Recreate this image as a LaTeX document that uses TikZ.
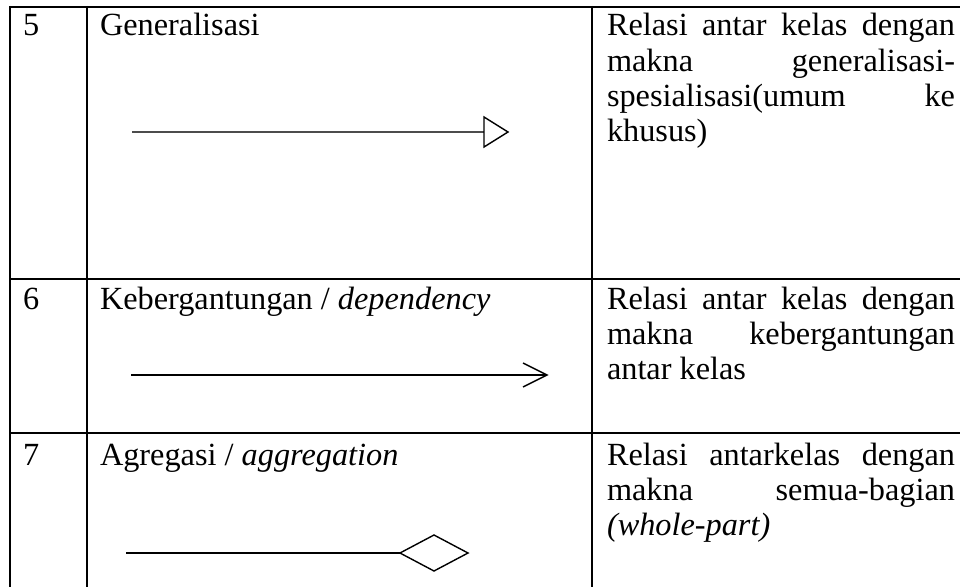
\documentclass[tikz,border=0pt]{standalone}
\usepackage{fontspec}
\setmainfont{Liberation Serif}
\begin{document}
\begin{tikzpicture}[x=1pt,y=-1pt,
  grid/.style={line width=1.8pt,black},
  txt/.style={anchor=base west,inner sep=0pt,outer sep=0pt,font=\fontsize{32.3}{35}\selectfont},
  conn/.style={line width=1.3pt},
  tip/.style={line width=1.4pt,line join=miter}]
\useasboundingbox (0,0) rectangle (960,586);
% table grid
\draw[grid] (9.5,7) -- (962,7);
\draw[grid] (9.5,279) -- (962,279);
\draw[grid] (9.5,433) -- (962,433);
\draw[grid] (10,6) -- (10,590);
\draw[grid] (87,6) -- (87,590);
\draw[grid] (592,6) -- (592,590);
% row 5
\node[txt] (n5) at (23,36) {5};
\node[txt] (t5) at (100,36) {Generalisasi};
\node[txt] (d5a) at (607,36) {\makebox[348pt][s]{Relasi antar kelas dengan}};
\node[txt] (d5b) at (607,71) {\makebox[348pt][s]{makna generalisasi-}};
\node[txt] (d5c) at (607,106) {\makebox[348pt][s]{spesialisasi(umum ke}};
\node[txt] (d5d) at (607,141) {khusus)};
\coordinate (g1) at (132,132);
\coordinate (g2) at (484,132);
\draw[conn,draw=black!70] (g1) -- (g2);
\draw[tip] (g2) ++(0,-15) -- ++(24,15) -- ++(-24,15) -- cycle;
% row 6
\node[txt] (n6) at (23,309) {6};
\node[txt] (t6) at (100,309) {Kebergantungan / \textit{dependency}};
\node[txt] (d6a) at (607,309) {\makebox[348pt][s]{Relasi antar kelas dengan}};
\node[txt] (d6b) at (607,344) {\makebox[348pt][s]{makna kebergantungan}};
\node[txt] (d6c) at (607,379) {antar kelas};
\coordinate (k1) at (131,375);
\coordinate (k2) at (547,375);
\draw[conn] (k1) -- (k2);
\draw[tip,line join=miter] (k2) ++(-24,-12) -- (k2) -- ++(-24,12);
% row 7
\node[txt] (n7) at (23,465) {7};
\node[txt] (t7) at (100,465) {Agregasi / \textit{aggregation}};
\node[txt] (d7a) at (607,465) {\makebox[348pt][s]{Relasi antarkelas dengan}};
\node[txt] (d7b) at (607,500) {\makebox[348pt][s]{makna semua-bagian}};
\node[txt] (d7c) at (607,535) {\textit{(whole-part)}};
\coordinate (a1) at (126,553);
\coordinate (a2) at (400,553);
\draw[conn] (a1) -- (a2);
\draw[tip] (a2) -- ++(34,-18) -- ++(34,18) -- ++(-34,18) -- cycle;
\end{tikzpicture}
\end{document}
